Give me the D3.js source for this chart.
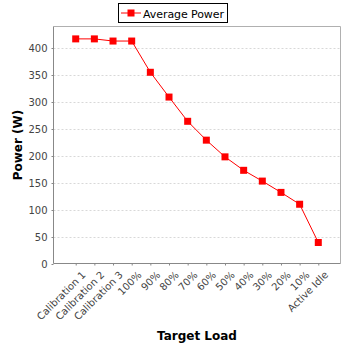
<!DOCTYPE html>
<html><head><meta charset="utf-8">
<script src="https://cdn.jsdelivr.net/npm/d3@7"></script>
<style>body{margin:0;background:#fff}svg{display:block}</style>
</head><body>
<script>
const categories = ["Calibration 1","Calibration 2","Calibration 3","100%","90%","80%","70%","60%","50%","40%","30%","20%","10%","Active Idle"];
const avgPower = [417,417,413,413,355,309,264,229,198,173,153,132,110,39];
const yTicks = [0,50,100,150,200,250,300,350,400];
const seriesName = "Average Power";

const W=348,H=348;
const L=53.5,R=340.5,T=26.5,B=263.5;
const svg=d3.select("body").append("svg").attr("width",W).attr("height",H);
svg.append("rect").attr("width",W).attr("height",H).attr("fill","#fff");

const x=d3.scalePoint().domain(categories).range([L,R]).padding(1.19);
const y=d3.scaleLinear().domain([0,440]).range([B,T]);

// grid
svg.append("g").selectAll("line").data(yTicks.filter(d=>d>0)).join("line")
 .attr("x1",L).attr("x2",R).attr("y1",d=>Math.round(y(d))+0.5).attr("y2",d=>Math.round(y(d))+0.5)
 .attr("stroke","#d8d8d8").attr("stroke-dasharray","2,2");

// frame top/right
svg.append("path").attr("d",`M${L},${T}H${R}V${B}`).attr("fill","none").attr("stroke","#b0b0b0");

// axes
const font="'DejaVu Sans', sans-serif";
const ya=svg.append("g").attr("transform",`translate(${L},0)`)
 .call(d3.axisLeft(y).tickValues(yTicks).tickSize(2).tickPadding(4).tickFormat(d3.format("d")));
ya.select(".domain").attr("stroke","#888").attr("d",`M0,${T}V${B}`);
ya.selectAll(".tick line").attr("stroke","#888");
ya.selectAll("text").attr("font-family",font).attr("font-size",10).attr("fill","#444");
ya.selectAll(".tick").attr("transform",d=>`translate(0,${Math.round(y(d))+0.5})`);

const xa=svg.append("g").attr("transform",`translate(0,${B})`)
 .call(d3.axisBottom(x).tickSize(2).tickPadding(3));
xa.select(".domain").attr("stroke","#888").attr("d",`M${L},0H${R}`);
xa.selectAll(".tick line").attr("stroke","#888");
xa.selectAll("text").attr("font-family",font).attr("font-size",10).attr("fill","#444")
 .attr("text-anchor","end").attr("dy","0.35em")
 .attr("transform","translate(4,6) rotate(-45)");

// line
svg.append("path").datum(avgPower).attr("fill","none").attr("stroke","#ff0000").attr("stroke-width",1)
 .attr("d",d3.line().x((d,i)=>x(categories[i])).y(d=>y(d)));
svg.append("g").selectAll("rect").data(avgPower).join("rect")
 .attr("x",(d,i)=>x(categories[i])-3.5).attr("y",d=>y(d)-3.5).attr("width",7).attr("height",7).attr("fill","#ff0000");

// titles
svg.append("text").attr("x",(L+R)/2).attr("y",340).attr("text-anchor","middle")
 .attr("font-family",font).attr("font-weight","bold").attr("font-size",12).text("Target Load");
svg.append("text").attr("transform",`translate(22,${(T+B)/2}) rotate(-90)`).attr("text-anchor","middle")
 .attr("font-family",font).attr("font-weight","bold").attr("font-size",12).text("Power (W)");

// legend
const lg=svg.append("g");
lg.append("rect").attr("x",118.5).attr("y",3.5).attr("width",109).attr("height",19).attr("fill","#fff").attr("stroke","#000");
lg.append("line").attr("x1",121).attr("x2",141).attr("y1",13).attr("y2",13).attr("stroke","#ff0000");
lg.append("rect").attr("x",127.5).attr("y",9.5).attr("width",7).attr("height",7).attr("fill","#ff0000");
lg.append("text").attr("x",143).attr("y",17.5).attr("font-family",font).attr("font-size",11).attr("textLength",81).text(seriesName);
</script>
</body></html>
